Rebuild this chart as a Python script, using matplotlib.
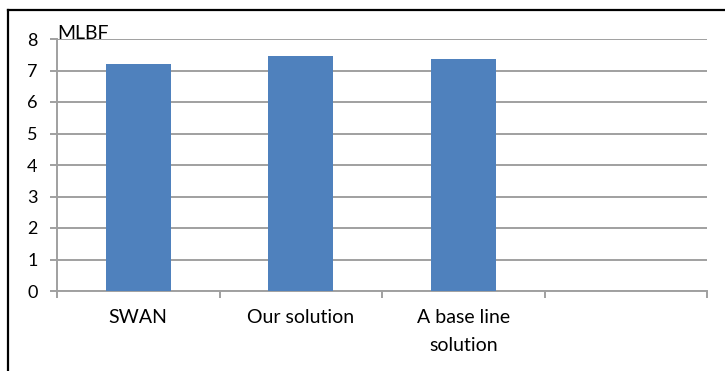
import matplotlib
matplotlib.use("Agg")
import matplotlib.pyplot as plt
from matplotlib.lines import Line2D

# MLBF per method; the fourth slot on the axis is left empty
categories = ["SWAN", "Our solution", "A base line\nsolution", ""]
values = [7.21, 7.45, 7.38]
y_ticks = [0, 1, 2, 3, 4, 5, 6, 7, 8]

BAR_COLOR = "#4F81BD"
GRID_COLOR = "#A0A0A0"

plt.rcParams["font.family"] = ["Lato", "DejaVu Sans"]

fig = plt.figure(figsize=(7.25, 3.71), dpi=100)
ax = fig.add_axes([57 / 725, 1 - 291 / 371, 650 / 725, 252 / 371])

n = len(categories)
centers = [i + 0.5 for i in range(n)]
ax.bar(centers[:len(values)], values, width=0.4, color=BAR_COLOR, zorder=3)

ax.set_xlim(0, n)
ax.set_ylim(0, 8)
ax.set_yticks(y_ticks)
ax.set_yticklabels([str(t) for t in y_ticks], fontsize=13)

# category boundaries get tick marks, labels sit in the middle
ax.set_xticks(range(n + 1))
ax.set_xticklabels([])
ax.set_xticks(centers, minor=True)
ax.set_xticklabels(categories, minor=True, fontsize=14, linespacing=1.75)
ax.tick_params(axis="x", which="minor", length=0, pad=13)
ax.tick_params(axis="x", which="major", length=5, width=1.4, color=GRID_COLOR)
ax.tick_params(axis="y", length=5, width=1.4, color=GRID_COLOR, pad=9)

ax.yaxis.grid(True, color=GRID_COLOR, linewidth=1.4, zorder=0)
ax.set_axisbelow(True)
for side in ("top", "right"):
    ax.spines[side].set_visible(False)
for side in ("left", "bottom"):
    ax.spines[side].set_color(GRID_COLOR)
    ax.spines[side].set_linewidth(1.4)

ax.text(0, 8, "MLBF", fontsize=14, ha="left", va="baseline",
        transform=ax.get_yaxis_transform(), zorder=4)

# outer chart frame, only top and left edges fall inside the canvas
fig.add_artist(Line2D([8 / 725, 8 / 725], [0, 1 - 10 / 371],
                      color="black", linewidth=1.6, transform=fig.transFigure))
fig.add_artist(Line2D([8 / 725, 1], [1 - 10 / 371, 1 - 10 / 371],
                      color="black", linewidth=1.6, transform=fig.transFigure))

fig.savefig("out.png", dpi=100, facecolor="white")
